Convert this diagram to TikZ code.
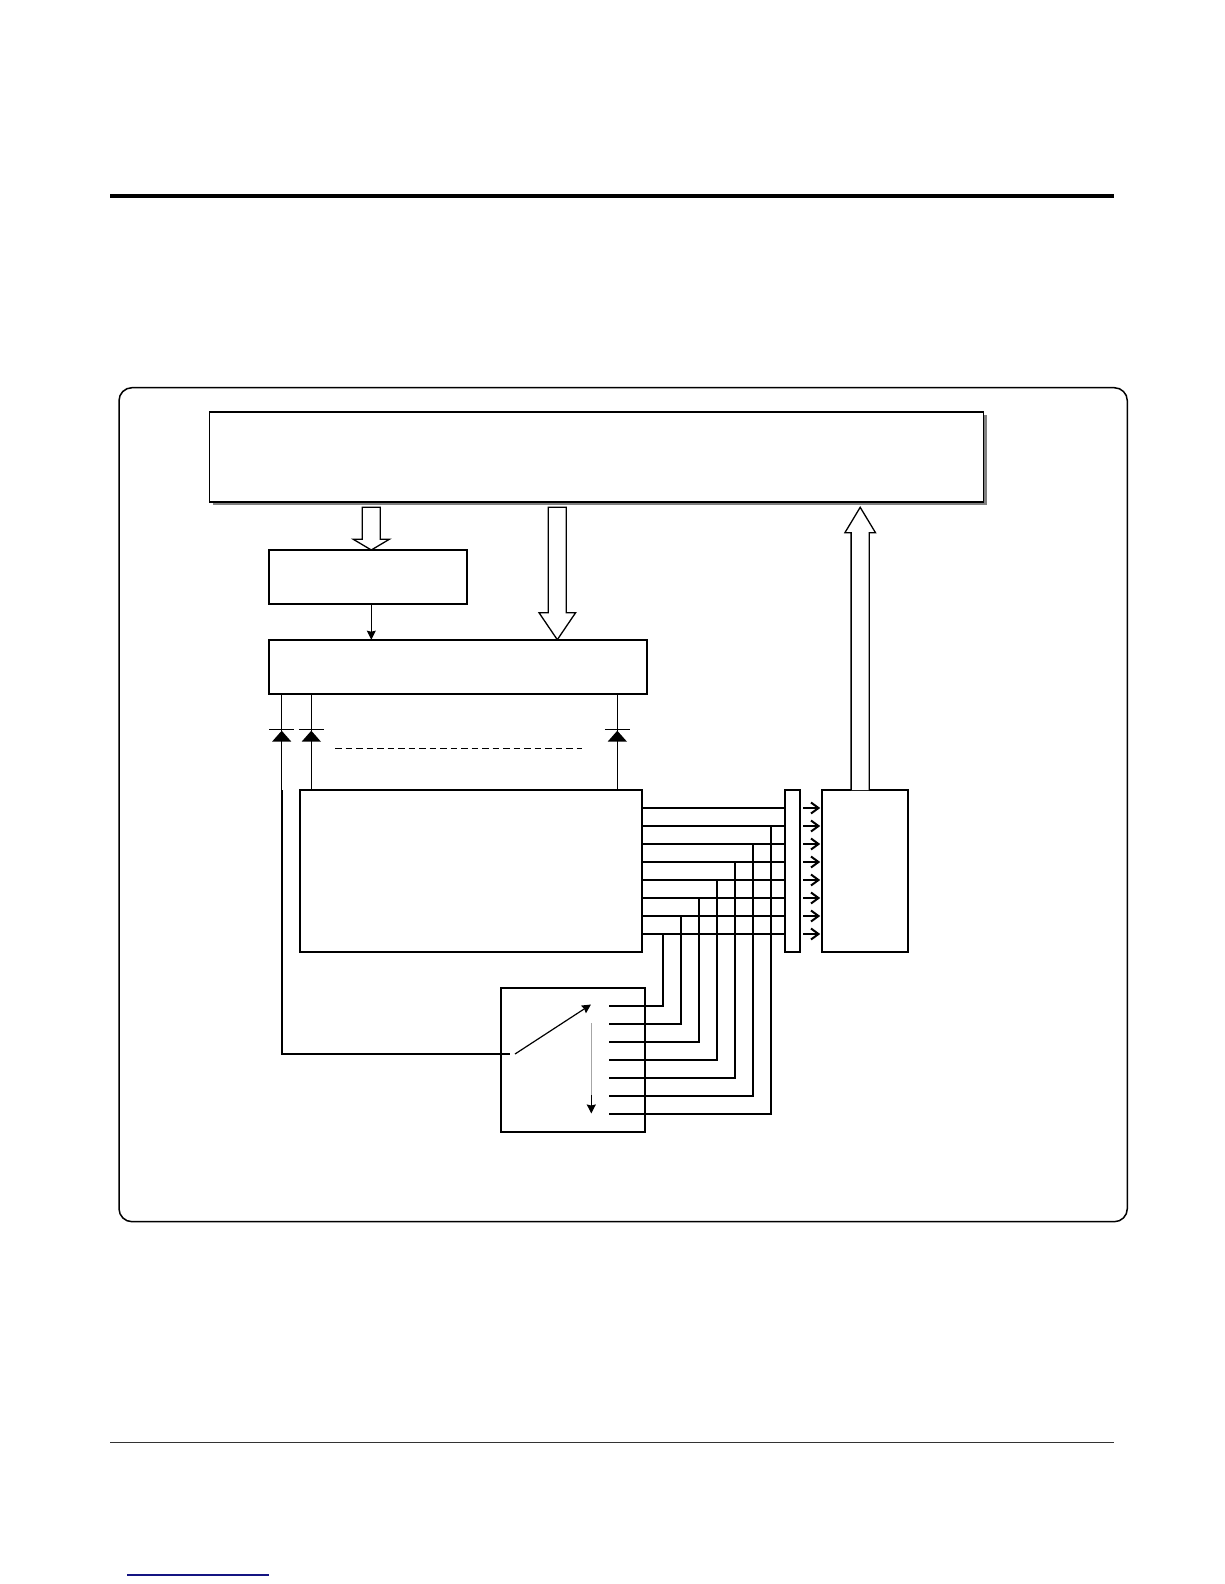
\documentclass[tikz,border=0pt]{standalone}
\usetikzlibrary{arrows.meta,calc}
\definecolor{linkblue}{RGB}{20,20,130}
\tikzset{
  box/.style={draw=black,fill=white,line width=1.7pt,inner sep=0pt,outer sep=0pt,anchor=north west},
  wire/.style={draw=black,line width=1.6pt},
  thinwire/.style={draw=black,line width=1.2pt},
  openarrow/.style={draw=black,fill=white,line width=1.3pt,line join=miter},
  diodebar/.style={draw=black,line width=1.3pt},
  diodetri/.style={fill=black,draw=none},
  solidtip/.style={-{Stealth[length=9pt,width=9pt,inset=1pt]}},
  barehead/.style={draw=black,line width=2pt,line join=miter},
}
\begin{document}
\begin{tikzpicture}[x=1pt,y=-1pt]
\useasboundingbox[fill=white] (0,0) rectangle (1224,1584);

% page rules
\coordinate (ruleAl) at (110,195.7); \coordinate (ruleAr) at (1114,195.7);
\draw[line width=4pt] (ruleAl) -- (ruleAr);
\coordinate (ruleBl) at (110,1442.3); \coordinate (ruleBr) at (1114,1442.3);
\draw[line width=1.2pt,draw=black!80] (ruleBl) -- (ruleBr);
\coordinate (linkl) at (127,1575); \coordinate (linkr) at (269,1575);
\draw[line width=1.3pt,draw=linkblue] (linkl) -- (linkr);

% outer frame
\node[box,line width=1.5pt,rounded corners=13pt,minimum width=1008.3pt,minimum height=834pt] (frame) at (119,387.7) {};

% top block with shadow
\fill[black!50] (212.5,415) rectangle (986.5,505);
\node[box,minimum width=774pt,minimum height=90pt] (cpu) at (209.5,412) {};

% blocks
\node[box,minimum width=198.6pt,minimum height=54pt] (latch) at (268.7,550) {};
\node[box,minimum width=378.3pt,minimum height=54.3pt] (decoder) at (268.7,639.7) {};
\node[box,minimum width=342pt,minimum height=162pt] (matrix) at (300,790) {};
\node[box,minimum width=15.6pt,minimum height=162pt] (bar) at (784.7,790) {};
\node[box,minimum width=86pt,minimum height=162pt] (buffer) at (822,790) {};
\node[box,minimum width=144pt,minimum height=144pt] (switch) at (501,988) {};

% wide open arrows
\coordinate (a1top) at (371.3,507.3);
\draw[openarrow] ($(a1top)+(-9,0)$) -- ($(a1top)+(9,0)$) -- ($(a1top)+(9,32)$) -- ($(a1top)+(18,32)$)
  -- (latch.north -| a1top) -- ($(a1top)+(-18,32)$) -- ($(a1top)+(-9,32)$) -- cycle;
\coordinate (a2top) at (557.3,507.3);
\draw[openarrow] ($(a2top)+(-9,0)$) -- ($(a2top)+(9,0)$) -- ($(a2top)+(9,105.4)$) -- ($(a2top)+(18.3,105.4)$)
  -- (decoder.north -| a2top) -- ($(a2top)+(-18.3,105.4)$) -- ($(a2top)+(-9,105.4)$) -- cycle;
\coordinate (a3x) at (860.2,507.3);
\draw[openarrow,fill=white] ($(buffer.north -| a3x)+(-9.1,0)$) -- ($(a3x)+(-9.1,25.4)$) -- ($(a3x)+(-15.3,25.4)$)
  -- (a3x) -- ($(a3x)+(15.3,25.4)$) -- ($(a3x)+(9.1,25.4)$) -- ($(buffer.north -| a3x)+(9.1,0)$);

% thin arrow latch to decoder
\coordinate (l2d) at (371.3,604);
\draw[thinwire,solidtip] (latch.south -| l2d) -- (decoder.north -| l2d);

% diodes
\coordinate (d1) at (281.7,729.7);
\coordinate (d2) at (311.3,729.7);
\coordinate (d3) at (617.3,729.7);
\coordinate (sw1) at (510,1054);
\foreach \d in {d1,d2,d3}{
  \draw[thinwire] (decoder.south -| \d) -- (\d);
  \draw[diodebar] ($(\d)+(-12.5,0)$) -- ($(\d)+(12.5,0)$);
  \fill[diodetri] ($(\d)+(0,1)$) -- ($(\d)+(9.7,12)$) -- ($(\d)+(-9.7,12)$) -- cycle;
}
\draw[thinwire] (d2) -- (matrix.north -| d2);
\draw[thinwire] (d3) -- (matrix.north -| d3);
\draw[thinwire] (d1) -- (d1 |- matrix.north);
\draw[wire,line join=miter] (d1 |- matrix.north) -- (d1 |- sw1) -- (sw1);
\coordinate (dashl) at (335,748); \coordinate (dashr) at (581.7,748);
\draw[line width=1pt,dash pattern=on 6.5pt off 4pt] (dashl) -- (dashr);

% bus lines, matrix to bar, and bare arrows
\foreach \i/\y in {1/808,2/826,3/844,4/862,5/880,6/898,7/916,8/934}{
  \coordinate (h\i) at (642,\y);
  \draw[wire] (h\i) -- (bar.west |- h\i);
  \coordinate (ga\i) at (803,\y);
  \coordinate (gb\i) at (818.5,\y);
  \draw[wire] (ga\i) -- (gb\i);
  \draw[barehead] ($(gb\i)+(-7.5,-5.5)$) -- (gb\i) -- ($(gb\i)+(-7.5,5.5)$);
}

% taps, switch contacts to bus lines
\foreach \j/\y/\x/\b in {1/1006/663/8,2/1024/681/7,3/1042/699/6,4/1060/717/5,5/1078/735/4,6/1096/753/3,7/1114/771/2}{
  \coordinate (c\j) at (609,\y);
  \coordinate (v\j) at (\x,\y);
  \draw[wire,line join=miter] (c\j) -- (v\j) -- (v\j |- h\b);
}

% switch arm and travel arrow
\coordinate (armtip) at (591,1004.5);
\draw[thinwire,solidtip] (515,1054) coordinate (armbase) -- (armtip);
\coordinate (trava) at (591.3,1023);
\coordinate (travb) at (591.3,1095);
\coordinate (travc) at (591.3,1113.5);
\draw[line width=.6pt,draw=black!35] (trava) -- (travb);
\draw[thinwire,solidtip] (travb) -- (travc);
\end{tikzpicture}
\end{document}
